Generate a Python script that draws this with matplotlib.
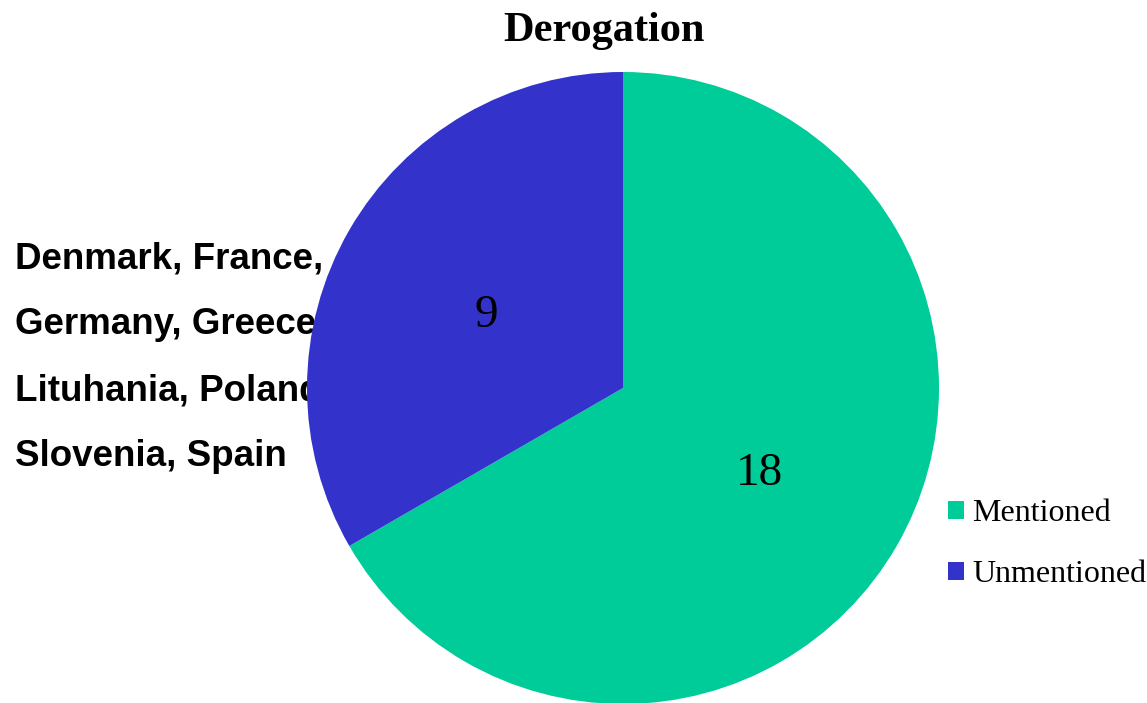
import matplotlib
matplotlib.use("Agg")
import matplotlib.pyplot as plt

# data
labels = ["Mentioned", "Unmentioned"]
values = [18, 9]
colors = ["#00CC99", "#3333CC"]
title = "Derogation"
note_lines = ["Denmark, France,", "Germany, Greece,", "Lituhania, Poland,", "Slovenia, Spain"]

W, H = 1147, 703
fig = plt.figure(figsize=(W / 100, H / 100), dpi=100)

# pie centre at (623, 388) px, radius 316 px
cx, cy, r = 623, 388, 316
ax = fig.add_axes([(cx - r) / W, (H - cy - r) / H, 2 * r / W, 2 * r / H])

wedges, _, autotexts = ax.pie(
    values, colors=colors, startangle=90, counterclock=False,
    autopct=lambda p: f"{round(p * sum(values) / 100):d}",
    pctdistance=0.5, radius=1,
    textprops=dict(family="Liberation Serif", fontsize=34, color="black"),
    wedgeprops=dict(linewidth=0),
)
# numbers sit a little lower in the original
for t in autotexts:
    x, y = t.get_position()
    t.set_position((x, y - 0.02))
ax.set_xlim(-1, 1)
ax.set_ylim(-1, 1)
ax.set_aspect("equal")
ax.axis("off")

# countries list sits behind the pie
for i, line in enumerate(note_lines):
    ax.text(15 / W, 1 - (268 + 66 * i) / H, line, transform=fig.transFigure,
            family="Liberation Sans", fontweight="bold", fontsize=26.5,
            va="baseline", ha="left", zorder=0, clip_on=False)

fig.text(604 / W, 1 - 41 / H, title, family="Liberation Serif",
         fontweight="bold", fontsize=30.5, ha="center", va="baseline")

fig.legend(wedges, labels, loc="upper left", bbox_to_anchor=(948 / W, 1 - 499 / H),
           frameon=False, prop=dict(family="Liberation Serif", size=23),
           handlelength=0.5, handleheight=0.5, handletextpad=0.25,
           labelspacing=1.0, borderaxespad=0, borderpad=0)

fig.savefig("out.png", dpi=100)
